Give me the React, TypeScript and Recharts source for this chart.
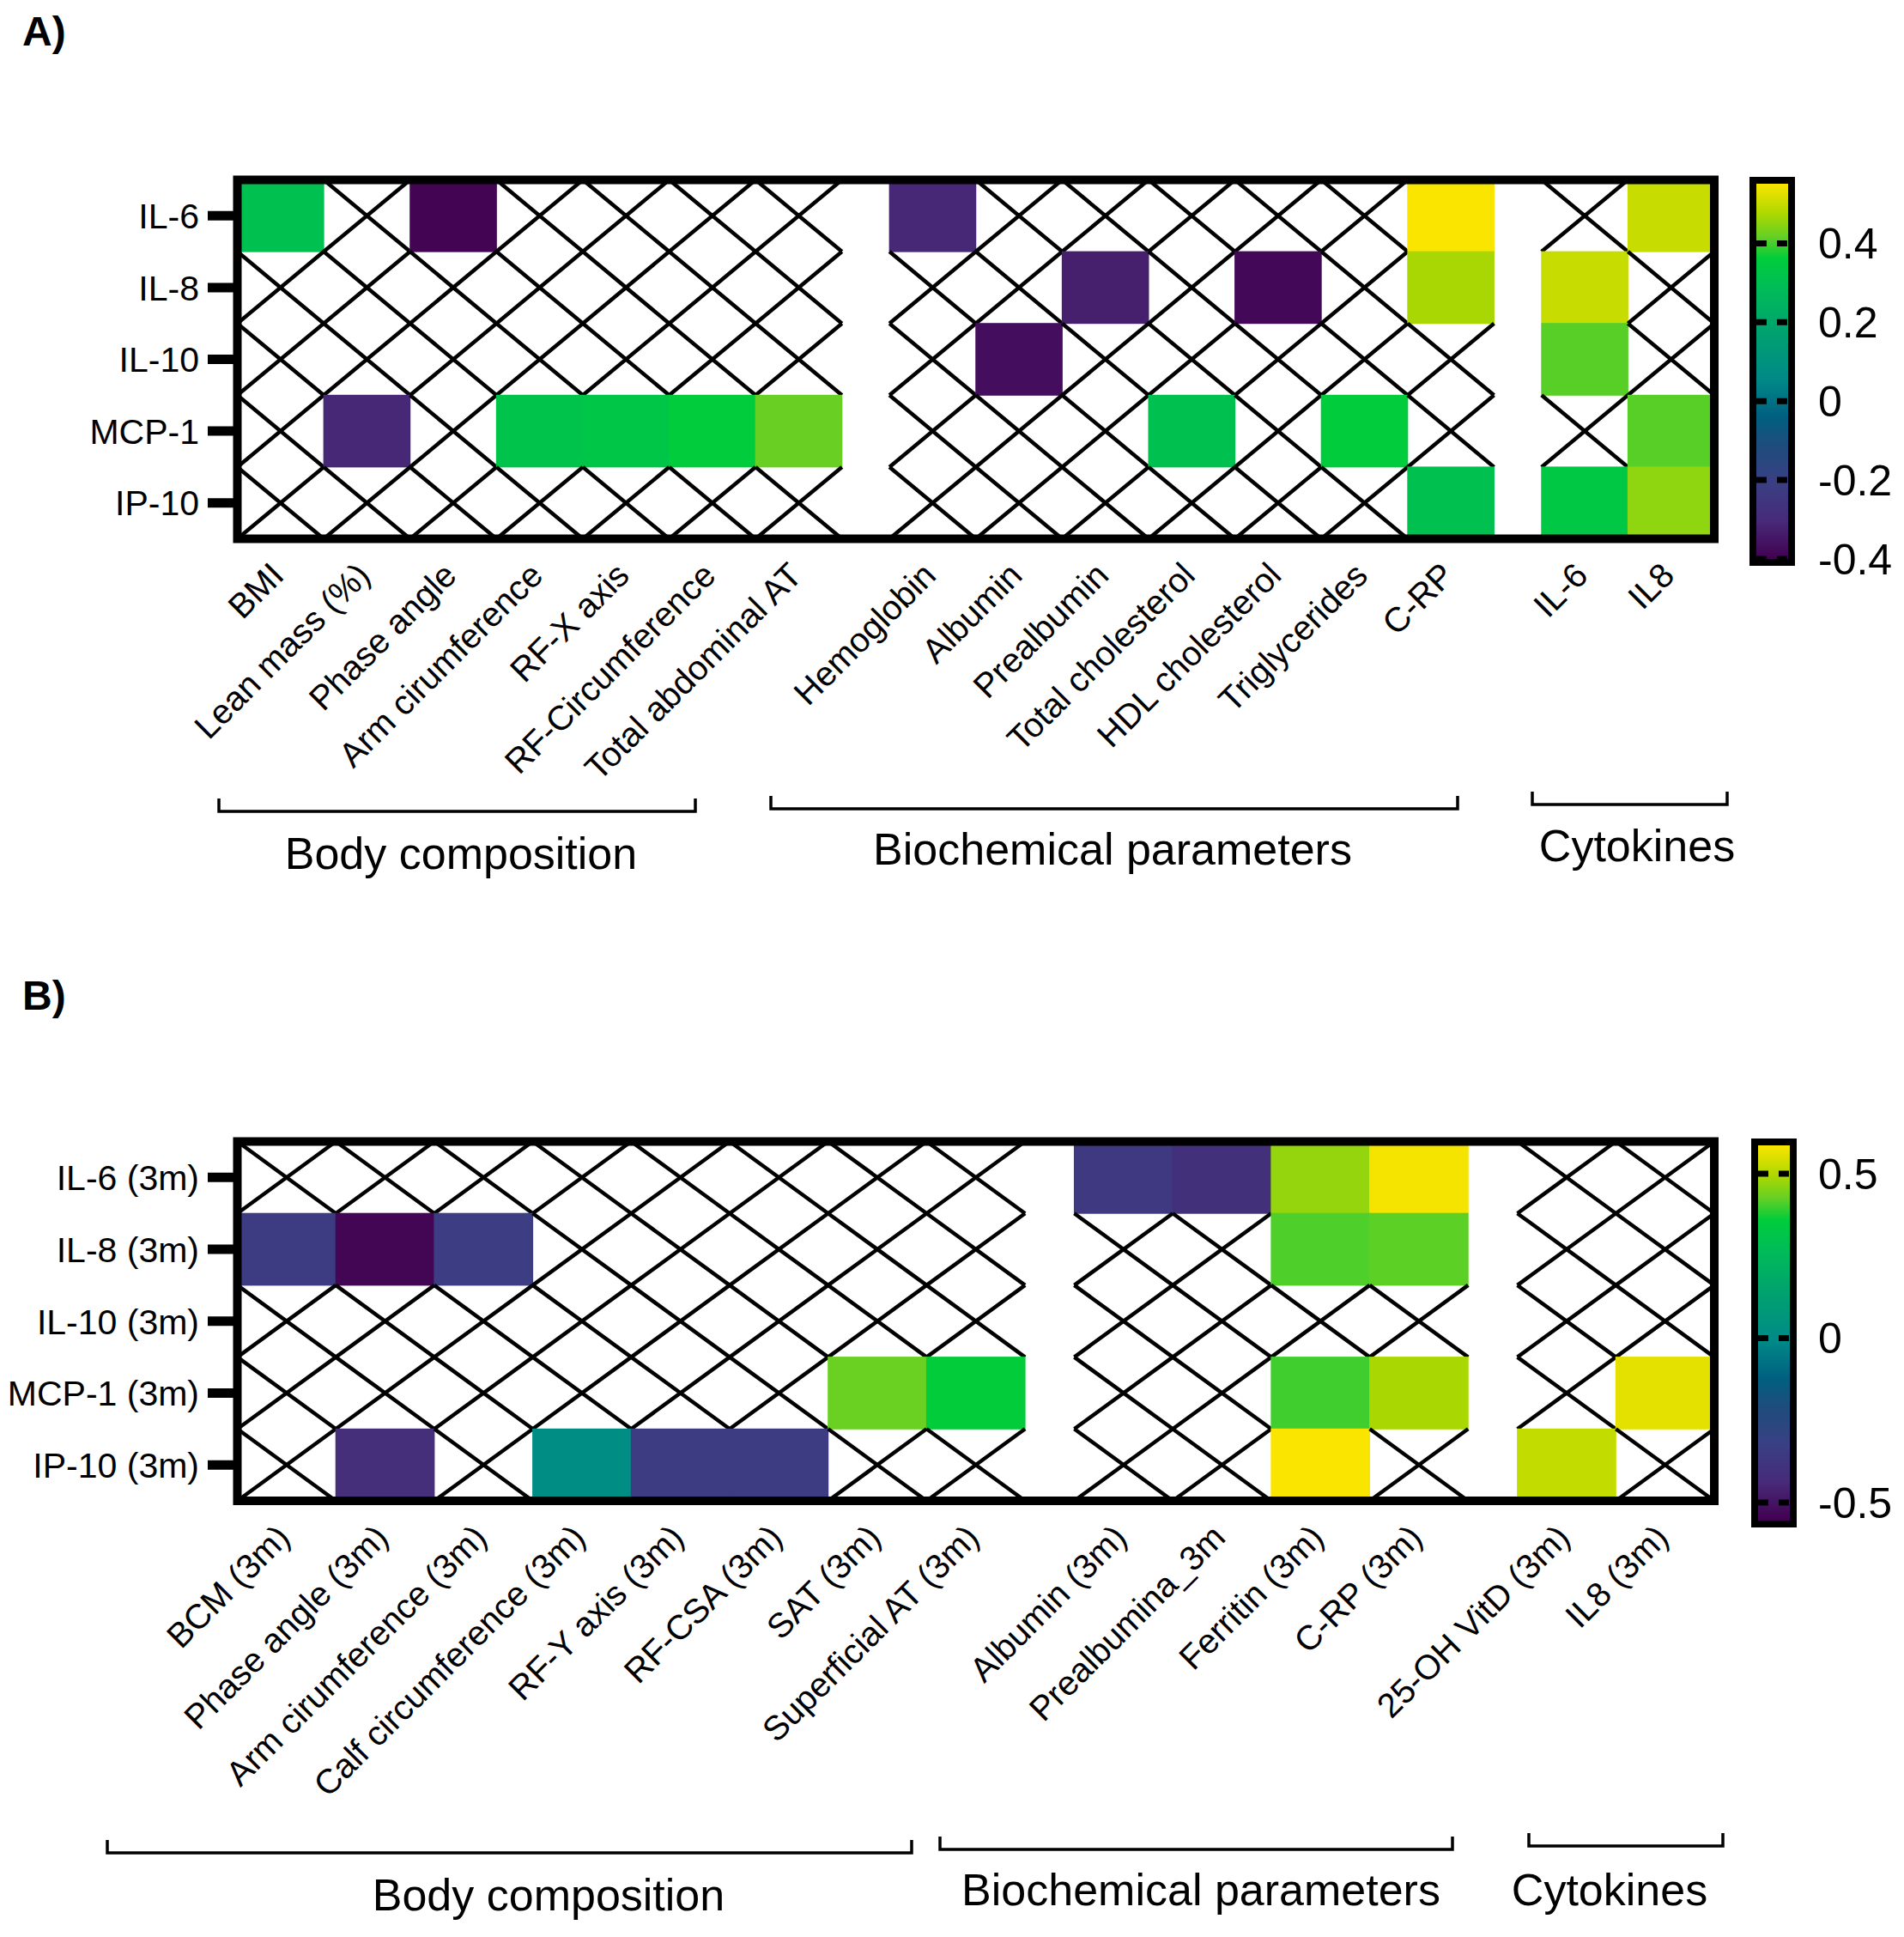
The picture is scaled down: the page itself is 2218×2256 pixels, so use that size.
import React from 'react';
import { Scatter, ScatterChart, XAxis, YAxis } from 'recharts';

const FONT = 'Arial, "Liberation Sans", Helvetica, sans-serif';

// ---------- Panel A ----------
const rowsA = ['IL-6', 'IL-8', 'IL-10', 'MCP-1', 'IP-10'];
const bodyA = ['BMI', 'Lean mass (%)', 'Phase angle', 'Arm cirumference', 'RF-X axis', 'RF-Circumference', 'Total abdominal AT'];
const biochemA = ['Hemoglobin', 'Albumin', 'Prealbumin', 'Total cholesterol', 'HDL cholesterol', 'Triglycerides', 'C-RP'];
const cytoA = ['IL-6', 'IL8'];

// one value per column (body, biochemical, cytokines); null = crossed cell
const il6A = [0.31, null, -0.39, null, null, null, null, -0.31, null, null, null, null, null, 0.55, null, 0.5];
const il8A = [null, null, null, null, null, null, null, null, null, -0.33, null, -0.38, null, 0.47, 0.5, null];
const il10A = [null, null, null, null, null, null, null, null, -0.37, null, null, null, null, null, 0.41, null];
const mcp1A = [null, -0.31, null, 0.32, 0.33, 0.36, 0.42, null, null, null, 0.31, null, 0.36, null, null, 0.41];
const ip10A = [null, null, null, null, null, null, null, null, null, null, null, null, null, 0.31, 0.34, 0.45];

const scaleTicksA = [0.4, 0.2, 0, -0.2, -0.4];
const scaleDomainA: [number, number] = [-0.4, 0.551];

// ---------- Panel B ----------
const rowsB = ['IL-6 (3m)', 'IL-8 (3m)', 'IL-10 (3m)', 'MCP-1 (3m)', 'IP-10 (3m)'];
const bodyB = ['BCM (3m)', 'Phase angle (3m)', 'Arm cirumference (3m)', 'Calf circumference (3m)', 'RF-Y axis (3m)', 'RF-CSA (3m)', 'SAT (3m)', 'Superficial AT (3m)'];
const biochemB = ['Albumin (3m)', 'Prealbumina_3m', 'Ferritin (3m)', 'C-RP (3m)'];
const cytoB = ['25-OH VitD (3m)', 'IL8 (3m)'];

const il6B = [null, null, null, null, null, null, null, null, -0.36, -0.41, 0.47, 0.58, null, null];
const il8B = [-0.35, -0.54, -0.34, null, null, null, null, null, null, null, 0.41, 0.42, null, null];
const il10B = [null, null, null, null, null, null, null, null, null, null, null, null, null, null];
const mcp1B = [null, null, null, null, null, null, 0.43, 0.36, null, null, 0.4, 0.49, null, 0.56];
const ip10B = [null, -0.42, null, 0.015, -0.35, -0.35, null, null, null, null, 0.586, null, 0.52, null];

const scaleTicksB = [0.5, 0, -0.5];
const scaleDomainB: [number, number] = [-0.555, 0.586];

const groupNames = ['Body composition', 'Biochemical parameters', 'Cytokines'];

// colour map (fraction -> colour)
const cmapStops: [number, string][] = [
  [0, '#420050'],
  [0.1, '#472a78'],
  [0.2, '#3a3f84'],
  [0.3, '#1f4c7c'],
  [0.38, '#006080'],
  [0.48, '#008a88'],
  [0.6, '#00a070'],
  [0.72, '#00bc58'],
  [0.8, '#00cc3c'],
  [0.86, '#66d024'],
  [0.92, '#aed800'],
  [1, '#fae500'],
];

function hex(c: string) {
  return [1, 3, 5].map((i) => parseInt(c.slice(i, i + 2), 16));
}

function cmap(t: number) {
  const f = Math.max(0, Math.min(1, t));
  for (let i = 1; i < cmapStops.length; i++) {
    const [t1, c1] = cmapStops[i];
    const [t0, c0] = cmapStops[i - 1];
    if (f <= t1) {
      const k = (f - t0) / (t1 - t0);
      const a = hex(c0);
      const b = hex(c1);
      return `rgb(${a.map((v, j) => Math.round(v + (b[j] - v) * k)).join(',')})`;
    }
  }
  return cmapStops[cmapStops.length - 1][1];
}

const W = 2218;
const H = 1128;
const PLOT_LEFT = 276.5;
const PLOT_RIGHT = 1997;
const Y_AXIS_W = 240;
const X_AXIS_H = 60;
const BORDER = 10;

type Col = { name: string; x: number; group: number };

function buildCols(groups: string[][], gap: number) {
  const cols: Col[] = [];
  let off = 0;
  groups.forEach((g, gi) => {
    g.forEach((name) => {
      cols.push({ name, x: off + 0.5, group: gi });
      off += 1;
    });
    if (gi < groups.length - 1) off += gap;
  });
  return { cols, total: off };
}

interface Bracket {
  x1: number;
  x2: number;
  y: number;
  labelX: number;
  labelY: number;
}

interface PanelProps {
  id: string;
  top: number;
  plotTop: number;
  plotH: number;
  rows: string[];
  groups: string[][];
  gap: number;
  values: (number | null)[][];
  domain: [number, number];
  scaleTicks: number[];
  scaleBox: { x: number; top: number; bottom: number };
  brackets: Bracket[];
  letter: string;
  letterY: number;
}

function Panel(p: PanelProps) {
  const { cols, total } = buildCols(p.groups, p.gap);
  const unitX = (PLOT_RIGHT - PLOT_LEFT) / total;
  const unitY = p.plotH / p.rows.length;
  const data = p.values.flatMap((row, r) =>
    row.map((v, c) => ({ x: cols[c].x, y: p.rows.length - r - 0.5, v })),
  );
  const yTicks = p.rows.map((_, r) => p.rows.length - r - 0.5);
  const bottomMargin = H - p.plotTop - p.plotH - X_AXIS_H;
  const labelY = p.plotTop + p.plotH + 45;

  const renderCell = (props: any) => {
    const { cx, cy, payload } = props;
    const x0 = cx - unitX / 2;
    const y0 = cy - unitY / 2;
    if (payload.v == null) {
      return (
        <g>
          <line x1={x0} y1={y0} x2={x0 + unitX} y2={y0 + unitY} stroke="#000" strokeWidth={4.5} />
          <line x1={x0 + unitX} y1={y0} x2={x0} y2={y0 + unitY} stroke="#000" strokeWidth={4.5} />
        </g>
      );
    }
    const t = (payload.v - p.domain[0]) / (p.domain[1] - p.domain[0]);
    return <rect x={x0 - 0.5} y={y0 - 0.5} width={unitX + 1} height={unitY + 1} fill={cmap(t)} />;
  };

  const XTick = (props: any) => {
    const { x, index } = props;
    const ax = x + 6;
    return (
      <text
        x={ax}
        y={labelY}
        transform={`rotate(-45 ${ax} ${labelY})`}
        textAnchor="end"
        fontSize={40}
        fontFamily={FONT}
        fill="#000"
      >
        {cols[index]?.name}
      </text>
    );
  };

  const YTick = (props: any) => {
    const { y, index } = props;
    return (
      <g>
        <line x1={242} x2={276} y1={y} y2={y} stroke="#000" strokeWidth={11} />
        <text x={232} y={y} dy="0.36em" textAnchor="end" fontSize={41} fontFamily={FONT} fill="#000">
          {p.rows[index]}
        </text>
      </g>
    );
  };

  const gid = `grad-${p.id}`;
  const sb = p.scaleBox;
  const sbY = (v: number) => sb.bottom - ((v - p.domain[0]) / (p.domain[1] - p.domain[0])) * (sb.bottom - sb.top);

  return (
    <div style={{ position: 'absolute', left: 0, top: p.top, width: W, height: H }}>
      <ScatterChart
        width={W}
        height={H}
        margin={{ top: p.plotTop, right: W - PLOT_RIGHT, bottom: bottomMargin, left: PLOT_LEFT - Y_AXIS_W }}
      >
        <XAxis
          type="number"
          dataKey="x"
          domain={[0, total]}
          ticks={cols.map((c) => c.x)}
          interval={0}
          axisLine={false}
          tickLine={false}
          height={X_AXIS_H}
          tick={<XTick />}
        />
        <YAxis
          type="number"
          dataKey="y"
          domain={[0, p.rows.length]}
          ticks={yTicks}
          interval={0}
          axisLine={false}
          tickLine={false}
          width={Y_AXIS_W}
          tick={<YTick />}
        />
        <Scatter data={data} shape={renderCell} isAnimationActive={false} />
      </ScatterChart>
      <svg width={W} height={H} style={{ position: 'absolute', left: 0, top: 0, pointerEvents: 'none' }}>
        <defs>
          <linearGradient id={gid} x1="0" y1="1" x2="0" y2="0">
            {cmapStops.map(([t, c]) => (
              <stop key={t} offset={t} stopColor={c} />
            ))}
          </linearGradient>
        </defs>
        <text x={26} y={p.letterY} fontSize={48} fontWeight="bold" fontFamily={FONT} fill="#000">
          {p.letter}
        </text>
        <rect
          x={PLOT_LEFT}
          y={p.plotTop}
          width={PLOT_RIGHT - PLOT_LEFT}
          height={p.plotH}
          fill="none"
          stroke="#000"
          strokeWidth={BORDER}
        />
        {p.brackets.map((b, i) => (
          <g key={i}>
            <path
              d={`M${b.x1},${b.y - 15} L${b.x1},${b.y} L${b.x2},${b.y} L${b.x2},${b.y - 15}`}
              fill="none"
              stroke="#000"
              strokeWidth={3.5}
            />
            <text x={b.labelX} y={b.labelY} textAnchor="middle" fontSize={52} fontFamily={FONT} fill="#000">
              {groupNames[i]}
            </text>
          </g>
        ))}
        <rect x={sb.x + 8} y={sb.top} width={37} height={sb.bottom - sb.top} fill={`url(#${gid})`} />
        {p.scaleTicks.map((v) => (
          <g key={v}>
            <line
              x1={sb.x + 8}
              x2={sb.x + 46}
              y1={sbY(v)}
              y2={sbY(v)}
              stroke="#000"
              strokeWidth={7}
              strokeDasharray="12 12"
            />
            <text x={2118} y={sbY(v)} dy="0.36em" fontSize={50} fontFamily={FONT} fill="#000">
              {v}
            </text>
          </g>
        ))}
        <rect
          x={sb.x + 4}
          y={sb.top - 4}
          width={45}
          height={sb.bottom - sb.top + 8}
          fill="none"
          stroke="#000"
          strokeWidth={8}
        />
      </svg>
    </div>
  );
}

export default function App() {
  return (
    <div style={{ position: 'absolute', left: 0, top: 0, width: W, height: 2256, background: '#fff' }}>
      <Panel
        id="a"
        top={0}
        plotTop={209.5}
        plotH={418}
        rows={rowsA}
        groups={[bodyA, biochemA, cytoA]}
        gap={0.55}
        values={[il6A, il8A, il10A, mcp1A, ip10A]}
        domain={scaleDomainA}
        scaleTicks={scaleTicksA}
        scaleBox={{ x: 2038, top: 214, bottom: 651 }}
        brackets={[
          { x1: 255, x2: 810, y: 945, labelX: 537, labelY: 1012 },
          { x1: 898, x2: 1698, y: 942, labelX: 1296, labelY: 1007 },
          { x1: 1785, x2: 2012, y: 937, labelX: 1907, labelY: 1003 },
        ]}
        letter="A)"
        letterY={53}
      />
      <Panel
        id="b"
        top={1128}
        plotTop={1329.5 - 1128}
        plotH={418.5}
        rows={rowsB}
        groups={[bodyB, biochemB, cytoB]}
        gap={0.5}
        values={[il6B, il8B, il10B, mcp1B, ip10B]}
        domain={scaleDomainB}
        scaleTicks={scaleTicksB}
        scaleBox={{ x: 2040, top: 1334 - 1128, bottom: 1771 - 1128 }}
        brackets={[
          { x1: 125, x2: 1062, y: 2158 - 1128, labelX: 639, labelY: 2225 - 1128 },
          { x1: 1095, x2: 1692, y: 2154 - 1128, labelX: 1399, labelY: 2219 - 1128 },
          { x1: 1781, x2: 2007, y: 2150 - 1128, labelX: 1875, labelY: 2219 - 1128 },
        ]}
        letter="B)"
        letterY={1176 - 1128}
      />
    </div>
  );
}
